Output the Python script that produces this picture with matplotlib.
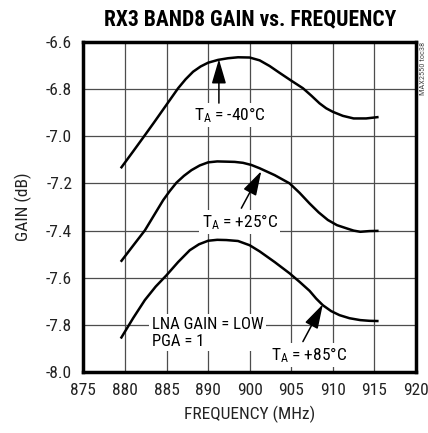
import numpy as np
import matplotlib
matplotlib.use("Agg")
import matplotlib.pyplot as plt

plt.rcParams['font.family'] = ['Roboto Condensed', 'Archivo Narrow', 'Liberation Sans', 'DejaVu Sans']
plt.rcParams['mathtext.default'] = 'regular'

# x positions on the plotted scale (axis labels printed as in the original)
tick_pos = [875, 880, 885, 890, 895, 900, 905, 910, 915]
tick_labels = ['875', '880', '885', '890', '900', '905', '910', '915', '920']
ytick_vals = [-8.0, -7.8, -7.6, -7.4, -7.2, -7.0, -6.8, -6.6]

# TA = -40C
freq_m40 = [879.5, 881.0, 882.4, 883.5, 884.5, 885.5, 886.4, 887.3, 888.2, 889.1, 890.0, 891.2, 892.4, 893.6,
            895.0, 896.2, 897.4, 898.6, 900.0, 901.4, 902.4, 903.4, 904.2, 905.0, 906.2, 907.5, 909.0, 910.5]
gain_m40 = [-7.136, -7.064, -6.996, -6.942, -6.892, -6.842, -6.797, -6.759, -6.727, -6.705, -6.689, -6.677, -6.670, -6.666,
            -6.667, -6.679, -6.703, -6.732, -6.765, -6.797, -6.828, -6.861, -6.882, -6.897, -6.914, -6.925, -6.925, -6.919]

# TA = +25C
freq_p25 = [879.5, 881.0, 882.4, 883.5, 884.6, 885.4, 886.2, 887.1, 888.0, 889.0, 890.0, 891.1, 892.2, 893.2, 894.2,
            895.2, 896.2, 898.0, 899.8, 901.0, 902.2, 903.3, 904.4, 905.5, 906.7, 907.5, 908.3, 909.4, 910.5]
gain_p25 = [-7.532, -7.463, -7.399, -7.335, -7.271, -7.232, -7.197, -7.168, -7.144, -7.124, -7.111, -7.107, -7.108, -7.109, -7.113,
            -7.122, -7.136, -7.165, -7.200, -7.240, -7.285, -7.323, -7.355, -7.377, -7.391, -7.400, -7.405, -7.402, -7.401]

# TA = +85C
freq_p85 = [879.5, 881.0, 882.4, 883.7, 885.0, 886.4, 887.8, 888.9, 890.0, 891.1, 892.2, 893.6, 895.0, 896.2,
            898.0, 899.8, 901.0, 902.2, 903.0, 903.8, 904.8, 905.8, 907.0, 908.3, 909.4, 910.5]
gain_p85 = [-7.857, -7.770, -7.694, -7.637, -7.589, -7.533, -7.483, -7.458, -7.443, -7.439, -7.440, -7.444, -7.462, -7.488,
            -7.533, -7.581, -7.617, -7.655, -7.688, -7.716, -7.741, -7.758, -7.771, -7.779, -7.782, -7.783]

fig = plt.figure(figsize=(4.28, 4.33), dpi=100)
ax = fig.add_axes([0.1947, 0.1402, 0.7773, 0.7635])

for f, g in [(freq_m40, gain_m40), (freq_p25, gain_p25), (freq_p85, gain_p85)]:
    ax.plot(f, g, color='k', lw=1.8, zorder=3, solid_capstyle='butt', solid_joinstyle='round')

ax.set_xlim(875, 915)
ax.set_ylim(-8.0, -6.6)
ax.set_xticks(tick_pos)
ax.set_xticklabels(tick_labels)
ax.set_yticks(ytick_vals)
ax.set_yticklabels(['%.1f' % v for v in ytick_vals])
ax.tick_params(length=0, labelsize=12.5, pad=8, colors='#222222')
ax.grid(True, color='0.3', lw=0.9, zorder=1)
for s in ax.spines.values():
    s.set_linewidth(2.5)

ax.set_xlabel('FREQUENCY (MHz)', fontsize=12.5, labelpad=5, color='#222222')
ax.set_ylabel('GAIN (dB)', fontsize=12.5, labelpad=10, color='#222222')
ax.set_title('RX3 BAND8 GAIN vs. FREQUENCY', fontsize=15.5, fontweight='bold', pad=12)

box = dict(facecolor='white', edgecolor='none', pad=1.5)
ap = dict(arrowstyle='-|>,head_width=0.22,head_length=0.75', mutation_scale=20,
          color='k', lw=1.1, shrinkA=0, shrinkB=0)

ax.text(892.6, -6.911, 'T$_A$ = -40°C', fontsize=12.5, ha='center', va='center', bbox=box, zorder=4)
ax.annotate('', xy=(891.3, -6.674), xytext=(891.3, -6.86), arrowprops=ap, zorder=5)

ax.text(893.8, -7.363, 'T$_A$ = +25°C', fontsize=12.5, ha='center', va='center', bbox=box, zorder=4)
ax.annotate('', xy=(896.4, -7.148), xytext=(894.0, -7.305), arrowprops=ap, zorder=5)

ax.text(902.2, -7.928, 'T$_A$ = +85°C', fontsize=12.5, ha='center', va='center', bbox=box, zorder=4)
ax.annotate('', xy=(903.8, -7.712), xytext=(901.4, -7.87), arrowprops=ap, zorder=5)

ax.text(883.2, -7.832, 'LNA GAIN = LOW\nPGA = 1', fontsize=12, ha='left', va='center',
        linespacing=1.15, bbox=dict(facecolor='white', edgecolor='none', pad=2), zorder=4)

fig.text(0.996, 0.903, 'MAX2550 toc38', fontsize=6, rotation=90, ha='right', va='top', color='0.3')

fig.savefig('out.png', dpi=100)
